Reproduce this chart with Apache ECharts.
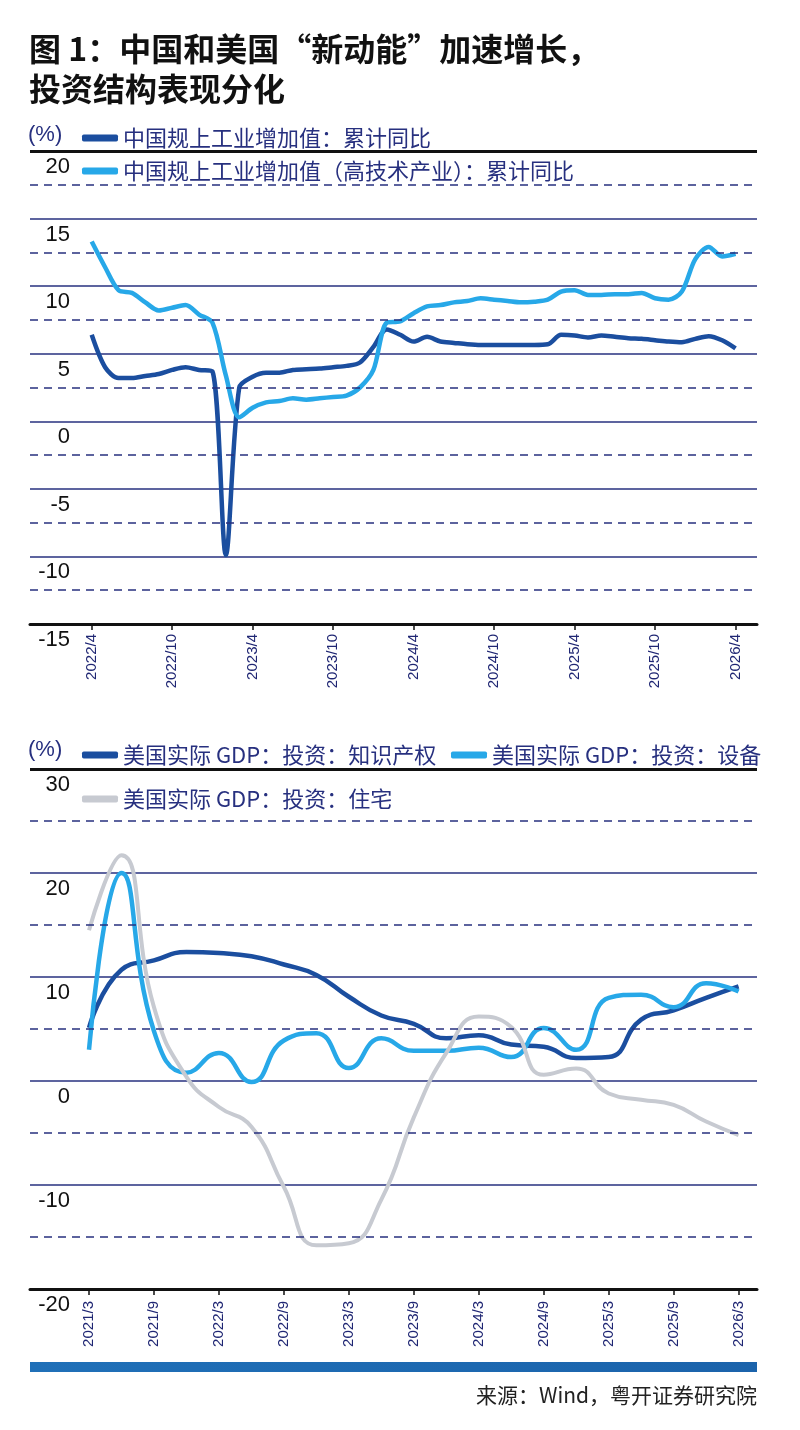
<!DOCTYPE html>
<html>
<head>
<meta charset="utf-8">
<script src="https://cdn.jsdelivr.net/npm/echarts@6/dist/echarts.min.js"></script>
<style>
html, body { margin: 0; padding: 0; background: #fff; }
#main { width: 800px; height: 1430px; }
</style>
</head>
<body>
<div id="main"></div>
<script>
// 月份/季度类目
function buildMonths(year, month, count, step) {
    var out = [];
    for (var i = 0; i < count; i++) {
        var k = (month - 1) + i * step;
        out.push((year + Math.floor(k / 12)) + '/' + (k % 12 + 1));
    }
    return out;
}

// 图上：中国规上工业增加值（月度，2022/4 - 2026/4）
var cnMonths = buildMonths(2022, 4, 49, 1);
var cnTickLabels = ['2022/4', '2022/10', '2023/4', '2023/10', '2024/4', '2024/10', '2025/4', '2025/10', '2026/4'];
var cnIndustry = [6.4, 4.0, 3.2, 3.2, 3.35, 3.5, 3.8, 4.0, 3.8, 3.7,
    -9.9, 2.5, 3.3, 3.6, 3.6, 3.8, 3.85, 3.9, 4.0, 4.1,
    4.35, 5.5, 6.8, 6.4, 5.9, 6.25, 5.9, 5.8, 5.7, 5.65,
    5.65, 5.65, 5.65, 5.65, 5.7, 6.4, 6.35, 6.2, 6.35, 6.25,
    6.15, 6.1, 6.0, 5.9, 5.85, 6.1, 6.3, 6.0, 5.4];
var cnHighTech = [13.3, 11.4, 9.7, 9.5, 8.8, 8.2, 8.4, 8.6, 7.9, 7.3,
    3.4, 0.3, 1.0, 1.4, 1.5, 1.7, 1.6, 1.7, 1.8, 1.9,
    2.5, 3.8, 7.3, 7.4, 8.0, 8.5, 8.6, 8.8, 8.9, 9.1,
    9.0, 8.9, 8.8, 8.85, 9.0, 9.6, 9.7, 9.35, 9.35, 9.4,
    9.4, 9.5, 9.1, 9.0, 9.6, 12.0, 12.9, 12.2, 12.4];
var cnDashed = [17.5, 12.5, 7.5, 2.5, -2.5, -7.5, -12.5];

// 图下：美国实际GDP投资（季度，2021/3 - 2026/3）
var usQuarters = buildMonths(2021, 3, 21, 3);
var usTickLabels = ['2021/3', '2021/9', '2022/3', '2022/9', '2023/3', '2023/9', '2024/3', '2024/9', '2025/3', '2025/9', '2026/3'];
var usIP = [5.1, 10.7, 11.6, 12.4, 12.3, 12.0, 11.2, 10.2, 8.1, 6.3,
    5.5, 4.1, 4.4, 3.5, 3.3, 2.2, 2.3, 5.9, 6.8, 8.0, 9.1];
var usEquip = [3.0, 20.0, 4.8, 0.8, 2.7, -0.1, 3.9, 4.6, 1.25, 4.1,
    2.9, 2.9, 3.2, 2.3, 5.1, 3.0, 8.0, 8.3, 7.1, 9.4, 8.6];
var usResi = [14.5, 21.7, 7.1, 0.4, -2.5, -4.4, -10.2, -15.8, -15.6, -11.4,
    -3.5, 2.7, 6.2, 5.2, 0.6, 1.2, -1.2, -1.8, -2.3, -3.9, -5.2];
var usDashed = [25, 15, 5, -5, -15];

var names = {
    cn1: '中国规上工业增加值：累计同比',
    cn2: '中国规上工业增加值（高技术产业）：累计同比',
    us1: '美国实际 GDP：投资：知识产权',
    us2: '美国实际 GDP：投资：设备',
    us3: '美国实际 GDP：投资：住宅'
};

var DARK = '#1b4e9f', LIGHT = '#27a8e8', GREY = '#c7cad1';
var NAVY = '#27307f';
var NUM_FONT = '"Liberation Sans Narrow", "Liberation Sans", Arial, sans-serif';
var CJK_FONT = '"Noto Sans CJK SC", "Noto Sans", sans-serif';

var myChart = echarts.init(document.getElementById('main'));

function dashLines(values, topValue) {
    var items = values.map(function (v) { return { yAxis: v }; });
    items.push({ yAxis: topValue, lineStyle: { color: '#111', type: 'solid', width: 3 } });
    return {
        silent: true,
        symbol: ['none', 'none'],
        label: { show: false },
        lineStyle: { color: NAVY, type: [8, 6], width: 1.5 },
        data: items
    };
}

function legendAt(name, left, top) {
    return {
        data: [name], left: left, top: top,
        icon: 'roundRect', itemWidth: 36, itemHeight: 7,
        selectedMode: false,
        textStyle: { fontSize: 22, color: NAVY, fontFamily: CJK_FONT }
    };
}

function xAxisCfg(gridIndex, min, max, ticks, labels, margin) {
    return {
        type: 'value', gridIndex: gridIndex, min: min, max: max,
        axisLine: { show: true, onZero: false, lineStyle: { color: '#111', width: 3 } },
        axisTick: { show: true, customValues: ticks, length: 6, lineStyle: { color: '#111', width: 1.5 } },
        axisLabel: {
            customValues: ticks, rotate: 90, margin: margin,
            fontSize: 15, color: '#1f2673', fontFamily: NUM_FONT,
            formatter: function (v) { return labels[ticks.indexOf(v)] || ''; }
        },
        splitLine: { show: false }
    };
}

function yAxisCfg(gridIndex, min, max, step, pad) {
    return {
        type: 'value', gridIndex: gridIndex, min: min, max: max, interval: step,
        axisLine: { show: false }, axisTick: { show: false },
        axisLabel: {
            inside: true, margin: 40, align: 'right', verticalAlign: 'top',
            padding: [pad, 0, 0, 0], lineHeight: 22,
            fontSize: 22, color: '#111', fontFamily: NUM_FONT
        },
        splitLine: { show: true, lineStyle: { color: NAVY, width: 1.5 } }
    };
}

var cnTicks = cnTickLabels.map(function (l) { return cnMonths.indexOf(l); });
var usTicks = usTickLabels.map(function (l) { return usQuarters.indexOf(l) * 3; });

var option = {
    animation: false,
    title: {
        text: '图 1：中国和美国“新动能”加速增长，\n投资结构表现分化',
        left: 24, top: 24,
        textStyle: { fontSize: 32, fontWeight: 'bold', color: '#111', lineHeight: 40, fontFamily: CJK_FONT }
    },
    legend: [
        legendAt(names.cn1, 77, 122),
        legendAt(names.cn2, 77, 155),
        legendAt(names.us1, 77, 739),
        legendAt(names.us2, 446, 739),
        legendAt(names.us3, 77, 783)
    ],
    grid: [
        { left: 30, right: 43, top: 151, height: 473 },
        { left: 30, right: 43, top: 769, height: 520 }
    ],
    xAxis: [
        xAxisCfg(0, -4.6, 49.6, cnTicks, cnTickLabels, 10),
        xAxisCfg(1, -5.45, 61.7, usTicks, usTickLabels, 12)
    ],
    yAxis: [
        yAxisCfg(0, -15, 20, 5, 5),
        yAxisCfg(1, -20, 30, 10, 5)
    ],
    graphic: [
        { type: 'text', left: 28, top: 124, style: { text: '(%)', fontSize: 22, fill: NAVY, fontFamily: NUM_FONT } },
        { type: 'text', left: 28, top: 739, style: { text: '(%)', fontSize: 22, fill: NAVY, fontFamily: NUM_FONT } },
        { type: 'rect', left: 30, top: 1362, shape: { width: 727, height: 10 },
          style: { fill: new echarts.graphic.LinearGradient(0, 0, 1, 0, [
              { offset: 0, color: '#2070b8' }, { offset: 1, color: '#1b63ab' }]) } },
        { type: 'text', right: 43, top: 1385, style: { text: '来源：Wind，粤开证券研究院', fontSize: 21, fill: '#222', fontFamily: CJK_FONT } }
    ],
    series: [
        {
            name: names.cn1, type: 'line', xAxisIndex: 0, yAxisIndex: 0,
            data: cnMonths.map(function (m, i) { return [i, cnIndustry[i]]; }),
            smooth: 0.3, symbol: 'none',
            lineStyle: { width: 4.5, color: DARK }, itemStyle: { color: DARK },
            markLine: dashLines(cnDashed, 20)
        },
        {
            name: names.cn2, type: 'line', xAxisIndex: 0, yAxisIndex: 0,
            data: cnMonths.map(function (m, i) { return [i, cnHighTech[i]]; }),
            smooth: 0.3, symbol: 'none',
            lineStyle: { width: 4.5, color: LIGHT }, itemStyle: { color: LIGHT }
        },
        {
            name: names.us1, type: 'line', xAxisIndex: 1, yAxisIndex: 1,
            data: usQuarters.map(function (q, i) { return [i * 3, usIP[i]]; }),
            smooth: 0.5, symbol: 'none',
            lineStyle: { width: 4.5, color: DARK }, itemStyle: { color: DARK },
            markLine: dashLines(usDashed, 30)
        },
        {
            name: names.us2, type: 'line', xAxisIndex: 1, yAxisIndex: 1,
            data: usQuarters.map(function (q, i) { return [i * 3, usEquip[i]]; }),
            smooth: 0.5, symbol: 'none',
            lineStyle: { width: 4.5, color: LIGHT }, itemStyle: { color: LIGHT }
        },
        {
            name: names.us3, type: 'line', xAxisIndex: 1, yAxisIndex: 1,
            data: usQuarters.map(function (q, i) { return [i * 3, usResi[i]]; }),
            smooth: 0.5, symbol: 'none',
            lineStyle: { width: 4, color: GREY }, itemStyle: { color: GREY }
        }
    ]
};

myChart.setOption(option);
</script>
</body>
</html>
